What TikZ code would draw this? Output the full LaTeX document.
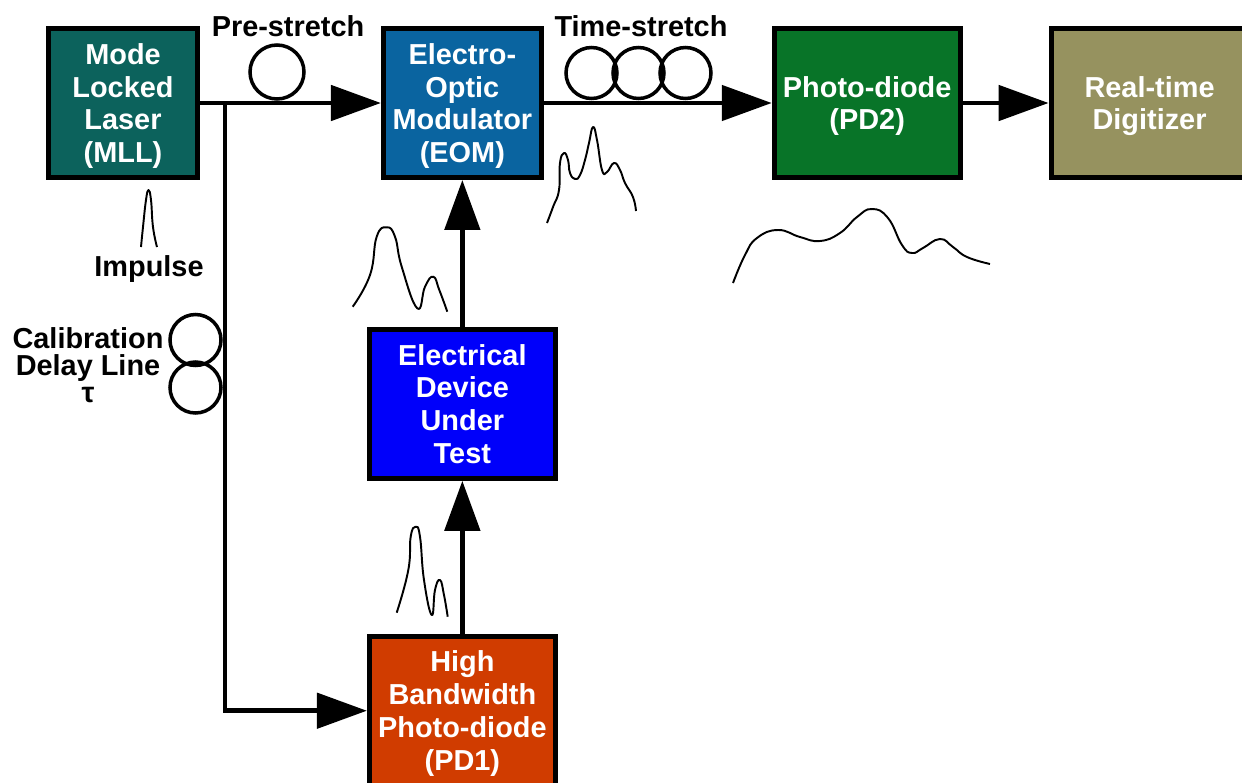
\documentclass[tikz,border=0pt]{standalone}
\usepackage{fontspec}
\setmainfont{Liberation Sans}
\usetikzlibrary{positioning,arrows.meta}
\definecolor{mll-teal}{RGB}{12,98,92}
\definecolor{eom-blue}{RGB}{10,100,160}
\definecolor{pd-green}{RGB}{8,116,40}
\definecolor{adc-olive}{RGB}{150,146,95}
\definecolor{dut-blue}{RGB}{0,0,250}
\definecolor{pd-red}{RGB}{208,60,0}

\begin{document}
\begin{tikzpicture}[
          x=0.02cm, y=-0.02cm,
          box/.style={
            draw=black, line width=2.8pt, text=white,
            minimum height=2.98cm, inner sep=0pt, text depth=-1pt,
            align=center, font=\fontsize{16.44}{18.7}\selectfont\bfseries},
          lbl/.style={
            align=center, inner sep=0pt,
            font=\fontsize{16.44}{15.3}\selectfont\bfseries},
          coil/.style={
            circle, draw=black, line width=2pt,
            minimum size=1.02cm, inner sep=0pt},
          arr/.style={-{Triangle[length=1cm,width=0.7cm]}, line width=2.8pt},
          wave/.style={line width=1.1pt, line join=round}
        ]
        \path[use as bounding box, clip] (0,0) rectangle (1242,782);
        % fibre spools
        \node[coil, minimum size=1.08cm] (spool) at (277,72) {};
        \node[coil] (ts1) at (591.5,73) {};
        \node[coil] (ts2) at (638.5,73) {};
        \node[coil] (ts3) at (685.5,73) {};
        \node[coil] (cal1) at (195.5,340) {};
        \node[coil] (cal2) at (195.5,387.5) {};

        \node[box, fill=mll-teal, minimum width=2.98cm] (mll) at (123,103)
          {Mode\\Locked\\Laser\\(MLL)};
        \node[box, fill=eom-blue, minimum width=3.16cm, right=3.62cm of mll] (eom)
          {Electro-\\Optic\\Modulator\\(EOM)};
        \node[box, fill=pd-green, minimum width=3.72cm, right=4.56cm of eom] (pd2)
          {Photo-diode\\(PD2)};
        \node[box, fill=adc-olive, minimum width=3.94cm, right=1.72cm of pd2] (adc)
          {Real-time\\Digitizer};
        \node[box, fill=dut-blue, minimum width=3.72cm, below=2.94cm of eom] (dut)
          {Electrical\\Device\\Under\\ Test};
        \node[box, fill=pd-red, minimum width=3.72cm, below=3.06cm of dut] (pd1)
          {High\\Bandwidth\\Photo-diode\\(PD1)};

        \coordinate (tap) at (225,103);
        \draw[arr] (mll) -- (eom);
        \draw[arr] (eom) -- (pd2);
        \draw[arr] (pd2) -- (adc);
        \draw[arr] (dut) -- (eom);
        \draw[arr] (pd1) -- (dut);
        \draw[arr] (tap) |- (pd1);

        \node[lbl] (prelbl) at (288,26) {Pre-stretch};
        \node[lbl] (tslbl) at (641,26) {Time-stretch};
        \node[lbl] (implbl) at (149,269) {Impulse};
        \node[lbl] (callbl) at (88,365) {Calibration\\Delay Line\\τ};

        % hand drawn pulse shapes
        \draw[wave] plot[smooth, tension=0.8] coordinates {(141,247) (143,227) (146,200) (148.5,190) (151,200) (153,227) (157,247)};
        \draw[wave] plot[smooth, tension=0.8] coordinates {(352.7,306.7) (370,275) (376.7,236.7) (386.7,227.3) (395,236.7) (401.7,266.7) (417.3,308.3) (425,286.7) (433.3,276.7) (439.3,290) (447.3,311.7)};
        \draw[wave] plot[smooth, tension=0.8] coordinates {(547,223) (553,207) (559,190) (560,163) (564,153) (568,160) (570,173) (575,179) (580,175) (585,160) (589,143) (593,127) (597,140) (602,170) (607,172) (614,163) (620,170) (625,183) (633,197) (636,211)};
        \draw[wave] plot[smooth, tension=0.8] coordinates {(733,283) (745,255) (757,238) (778,230) (800,237) (820,241) (840,233) (857,217) (872,209) (888,218) (902,245) (912,253) (923,248) (940,239) (953,247) (967,257) (990,264)};
        \draw[wave] plot[smooth, tension=0.8] coordinates {(396.7,612.7) (408.3,570) (410.7,536.7) (415.7,526.7) (420,536.7) (424,580) (431.7,615) (435,590) (440,580) (444,595) (447.7,616.7)};
      \end{tikzpicture}
\end{document}
